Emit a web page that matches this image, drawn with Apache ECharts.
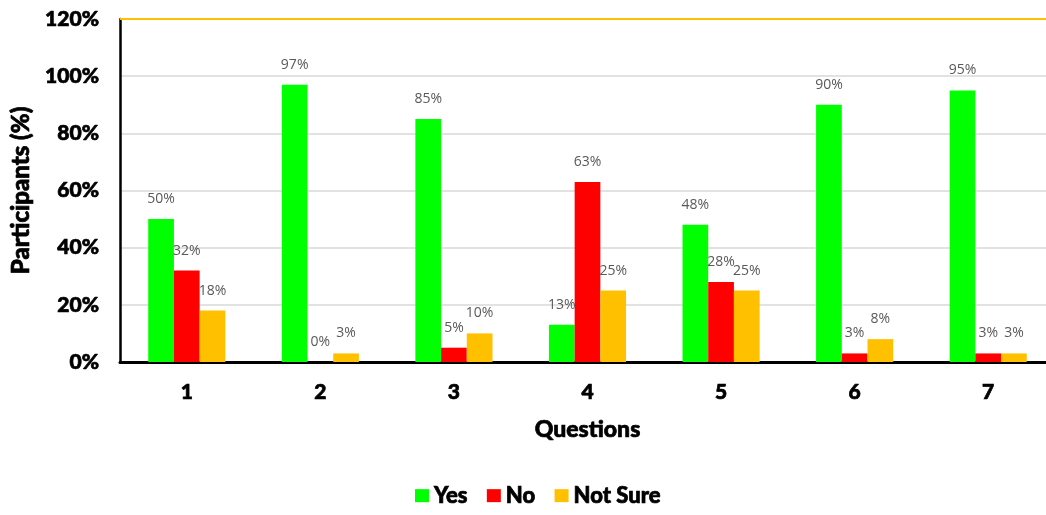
<!DOCTYPE html>
<html>
<head>
<meta charset="utf-8">
<script src="https://cdn.jsdelivr.net/npm/echarts@6/dist/echarts.min.js"></script>
<style>
  html, body { margin: 0; padding: 0; background: #fff; }
  #chart { width: 1046px; height: 515px; }
</style>
</head>
<body>
<div id="chart"></div>
<script>
// Survey answers per question, percent of participants
const questions = ['1', '2', '3', '4', '5', '6', '7'];
const yesValues = [50, 97, 85, 13, 48, 90, 95];
const noValues = [32, 0, 5, 63, 28, 3, 3];
const notSureValues = [18, 3, 10, 25, 25, 8, 3];
const seriesNames = ['Yes', 'No', 'Not Sure'];
const seriesColors = ['#00ff00', '#ff0000', '#ffc000'];

// heavy black text for axes, titles and legend
function heavyText(size) {
  return {
    fontFamily: 'Lato',
    fontWeight: 900,
    fontSize: size,
    color: '#000',
    textBorderColor: '#000',
    textBorderWidth: 0.7
  };
}

const labelStyle = {
  show: true,
  position: 'top',
  distance: 13,
  formatter: '{c}%',
  color: '#595959',
  fontFamily: 'Open Sans',
  fontSize: 14
};

function barSeries(name, values, color, extra) {
  return Object.assign({
    name: name,
    type: 'bar',
    data: values,
    barWidth: 25.7,
    barGap: '0%',
    itemStyle: { color: color },
    label: labelStyle,
    animation: false
  }, extra || {});
}

const chart = echarts.init(document.getElementById('chart'), null, { renderer: 'canvas' });
chart.setOption({
  backgroundColor: '#ffffff',
  animation: false,
  // plot area runs a little past the right edge of the canvas
  grid: {
    left: 120, top: 19, width: 935, height: 343,
    containLabel: false,
    outerBoundsMode: 'none'
  },
  legend: {
    data: seriesNames,
    bottom: 3,
    left: 410,
    itemWidth: 14,
    itemHeight: 13,
    itemGap: 19,
    icon: 'rect',
    textStyle: heavyText(22)
  },
  xAxis: {
    type: 'category',
    data: questions,
    name: 'Questions',
    nameLocation: 'middle',
    nameGap: 56,
    nameTextStyle: heavyText(23),
    axisLine: { lineStyle: { color: '#000', width: 3 } },
    axisTick: { show: false },
    axisLabel: Object.assign({ margin: 20 }, heavyText(21))
  },
  yAxis: {
    type: 'value',
    min: 0,
    max: 120,
    interval: 20,
    name: 'Participants (%)',
    nameLocation: 'middle',
    nameGap: 84,
    nameTextStyle: heavyText(24),
    axisLine: { show: true, lineStyle: { color: '#000', width: 2.5 } },
    axisTick: { show: false },
    splitLine: { lineStyle: { color: '#d9d9d9', width: 1.5 } },
    axisLabel: Object.assign({ margin: 21, formatter: '{value}%' }, heavyText(21))
  },
  series: [
    barSeries(seriesNames[0], yesValues, seriesColors[0]),
    barSeries(seriesNames[1], noValues, seriesColors[1]),
    barSeries(seriesNames[2], notSureValues, seriesColors[2], {
      markLine: {
        silent: true,
        symbol: 'none',
        label: { show: false },
        lineStyle: { color: '#ffc000', width: 2, type: 'solid' },
        data: [{ yAxis: 120 }]
      }
    })
  ]
});
</script>
</body>
</html>
